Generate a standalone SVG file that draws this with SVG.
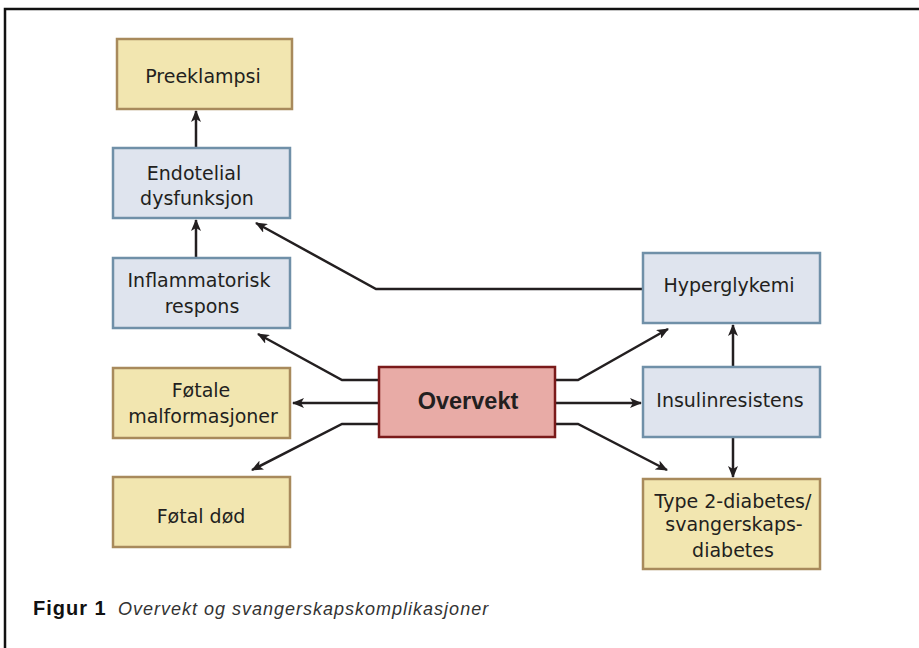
<svg xmlns="http://www.w3.org/2000/svg" width="919" height="648" viewBox="0 0 919 648">
<defs>
<marker id="ah" markerWidth="12" markerHeight="10" refX="11" refY="5" orient="auto" markerUnits="userSpaceOnUse">
<path d="M0,0 L12,5 L0,10 L3,5 Z" fill="#231f20"/>
</marker>
<style>
.y{fill:#f2e6b0;stroke:#a88a5c;stroke-width:2.5}
.b{fill:#dfe4ee;stroke:#7090a8;stroke-width:2.5}
.r{fill:#e8aba6;stroke:#7a1a1a;stroke-width:2.5}
.t{font-family:"DejaVu Sans","Liberation Sans",Arial,sans-serif;font-size:19px;fill:#231f20;text-anchor:middle}
.c{fill:none;stroke:#231f20;stroke-width:2.5}
</style>
</defs>
<rect width="919" height="648" fill="#fff"/>
<path d="M5,648 V9 H919" fill="none" stroke="#111" stroke-width="2.5"/>
<g id="connectors">
<path class="c" d="M196,148 V111" marker-end="url(#ah)"/>
<path class="c" d="M196,258 V220" marker-end="url(#ah)"/>
<path class="c" d="M643,289 H376 L256,223" marker-end="url(#ah)"/>
<path class="c" d="M379,380 H342 L258,334" marker-end="url(#ah)"/>
<path class="c" d="M379,403 H293" marker-end="url(#ah)"/>
<path class="c" d="M379,424 H342 L252,470" marker-end="url(#ah)"/>
<path class="c" d="M555,380 H578 L668,329" marker-end="url(#ah)"/>
<path class="c" d="M555,403 H641" marker-end="url(#ah)"/>
<path class="c" d="M555,424 H578 L667,470" marker-end="url(#ah)"/>
<path class="c" d="M733,367 V325" marker-end="url(#ah)"/>
<path class="c" d="M733,437 V477" marker-end="url(#ah)"/>
</g>
<g id="preeklampsi"><rect class="y" x="117" y="39" width="175" height="70"/><text class="t" x="203" y="83">Preeklampsi</text></g>
<g id="endotelial"><rect class="b" x="113" y="148" width="177" height="70"/><text class="t" x="194" y="180">Endotelial</text><text class="t" x="197" y="205">dysfunksjon</text></g>
<g id="inflammatorisk"><rect class="b" x="113" y="258" width="177" height="70"/><text class="t" x="199" y="287">Inflammatorisk</text><text class="t" x="202" y="313">respons</text></g>
<g id="fotale"><rect class="y" x="113" y="368" width="177" height="70"/><text class="t" x="201" y="397">Føtale</text><text class="t" x="203" y="423">malformasjoner</text></g>
<g id="fotaldod"><rect class="y" x="113" y="477" width="177" height="70"/><text class="t" x="201" y="523">Føtal død</text></g>
<g id="overvekt"><rect class="r" x="379" y="367" width="176" height="70"/><text x="468" y="409" style="font-family:'Liberation Sans',Arial,sans-serif;font-weight:bold;font-size:23.5px;fill:#231f20;text-anchor:middle">Overvekt</text></g>
<g id="hyperglykemi"><rect class="b" x="643" y="253" width="177" height="70"/><text class="t" x="729" y="292">Hyperglykemi</text></g>
<g id="insulinresistens"><rect class="b" x="643" y="367" width="177" height="70"/><text class="t" x="730" y="407">Insulinresistens</text></g>
<g id="type2"><rect class="y" x="643" y="479" width="177" height="90"/><text class="t" x="733" y="508">Type 2-diabetes/</text><text class="t" x="734" y="531">svangerskaps-</text><text class="t" x="733" y="557">diabetes</text></g>
<g id="caption">
<text x="33" y="615" style="font-family:'Liberation Sans',Arial,sans-serif;font-size:20px;font-weight:bold;letter-spacing:1px;fill:#111">Figur 1</text>
<text x="118" y="615" style="font-family:'Liberation Sans',Arial,sans-serif;font-size:18px;font-style:italic;letter-spacing:1px;fill:#333">Overvekt og svangerskapskomplikasjoner</text>
</g>
</svg>
